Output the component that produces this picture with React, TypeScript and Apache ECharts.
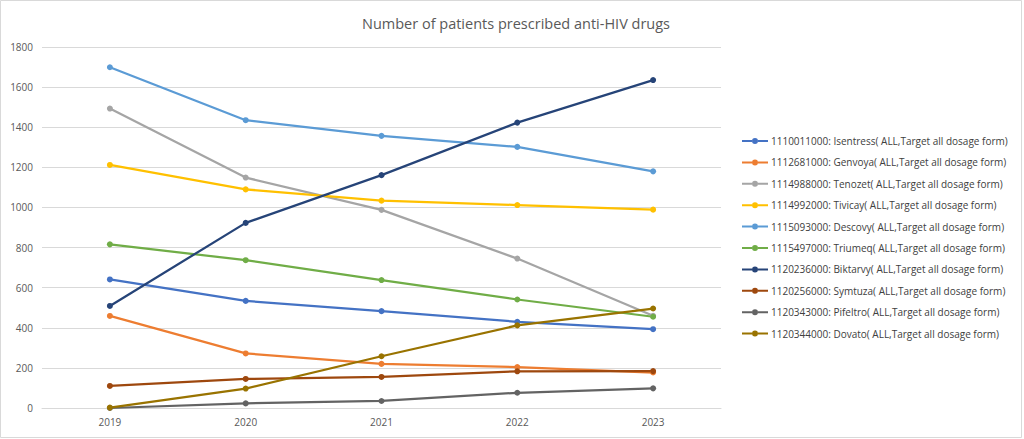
import React, { useEffect, useRef } from "react";
import * as echarts from "echarts";

const years = ["2019", "2020", "2021", "2022", "2023"];
const seriesNames = [
  "1110011000: Isentress( ALL,Target all dosage form)",
  "1112681000: Genvoya( ALL,Target all dosage form)",
  "1114988000: Tenozet( ALL,Target all dosage form)",
  "1114992000: Tivicay( ALL,Target all dosage form)",
  "1115093000: Descovy( ALL,Target all dosage form)",
  "1115497000: Triumeq( ALL,Target all dosage form)",
  "1120236000: Biktarvy( ALL,Target all dosage form)",
  "1120256000: Symtuza( ALL,Target all dosage form)",
  "1120343000: Pifeltro( ALL,Target all dosage form)",
  "1120344000: Dovato( ALL,Target all dosage form)",
];
const isentress = [641, 534, 483, 430, 393];
const genvoya = [459, 272, 220, 204, 177];
const tenozet = [1493, 1149, 988, 745, 460];
const tivicay = [1212, 1090, 1034, 1012, 989];
const descovy = [1699, 1435, 1357, 1302, 1180];
const triumeq = [816, 737, 638, 541, 455];
const biktarvy = [509, 923, 1161, 1423, 1635];
const symtuza = [110, 145, 155, 183, 184];
const pifeltro = [0, 23, 35, 76, 98];
const dovato = [2, 97, 258, 412, 496];
const seriesValues = [isentress, genvoya, tenozet, tivicay, descovy, triumeq, biktarvy, symtuza, pifeltro, dovato];
const colors = ["#4472C4", "#ED7D31", "#A5A5A5", "#FFC000", "#5B9BD5", "#70AD47", "#264478", "#9E480E", "#636363", "#997300"];
const yTicks = { min: 0, max: 1800, interval: 200 };

export default function App() {
  const ref = useRef<HTMLDivElement>(null);
  useEffect(() => {
    if (!ref.current) return;
    const chart = echarts.init(ref.current, undefined, { renderer: "svg" });
    chart.setOption({
      animation: false,
      backgroundColor: "#ffffff",
      color: colors,
      textStyle: { fontFamily: "Open Sans" },
      title: {
        text: "Number of patients prescribed anti-HIV drugs",
        left: 511,
        textAlign: "center",
        top: 11,
        textStyle: { fontSize: 14.5, fontWeight: "normal", color: "#595959", fontFamily: "Open Sans" },
      },
      graphic: [
        {
          type: "rect",
          shape: { x: 0.5, y: 0.5, width: 1021, height: 437 },
          style: { fill: "none", stroke: "#d9d9d9", lineWidth: 1 },
          silent: true,
        },
      ],
      grid: { left: 42, right: 303, top: 47, bottom: 31, containLabel: false },
      legend: {
        orient: "vertical",
        left: 737,
        top: 131,
        itemWidth: 26,
        itemHeight: 14,
        itemGap: 11.4,
        icon: "path://M0,6 L10,6 L10,8 L0,8 Z M16,6 L26,6 L26,8 L16,8 Z M10,7 a3,3 0 1,0 6,0 a3,3 0 1,0 -6,0 Z",
        textStyle: { fontSize: 10, color: "#404040", fontFamily: "Open Sans", padding: [0, 0, 0, -2] },
        data: seriesNames,
      },
      xAxis: {
        type: "category",
        data: years,
        boundaryGap: true,
        axisLine: { show: true, lineStyle: { color: "#d9d9d9" } },
        axisTick: { show: false },
        axisLabel: { fontSize: 10, color: "#595959", margin: 9 },
      },
      yAxis: {
        type: "value",
        min: yTicks.min,
        max: yTicks.max,
        interval: yTicks.interval,
        axisLine: { show: false },
        axisTick: { show: false },
        axisLabel: { fontSize: 10, color: "#595959", margin: 9, formatter: (v: number) => String(v) },
        splitLine: { lineStyle: { color: "#d9d9d9", width: 1 } },
      },
      series: seriesNames.map((name, i) => ({
        name,
        type: "line",
        data: seriesValues[i],
        symbol: "circle",
        symbolSize: 6,
        lineStyle: { width: 2.25, color: colors[i] },
        itemStyle: { color: colors[i] },
      })),
    });
    return () => chart.dispose();
  }, []);
  return (
    <div
      ref={ref}
      style={{ position: "fixed", left: 0, top: 0, width: 1024, height: 439 }}
    />
  );
}
